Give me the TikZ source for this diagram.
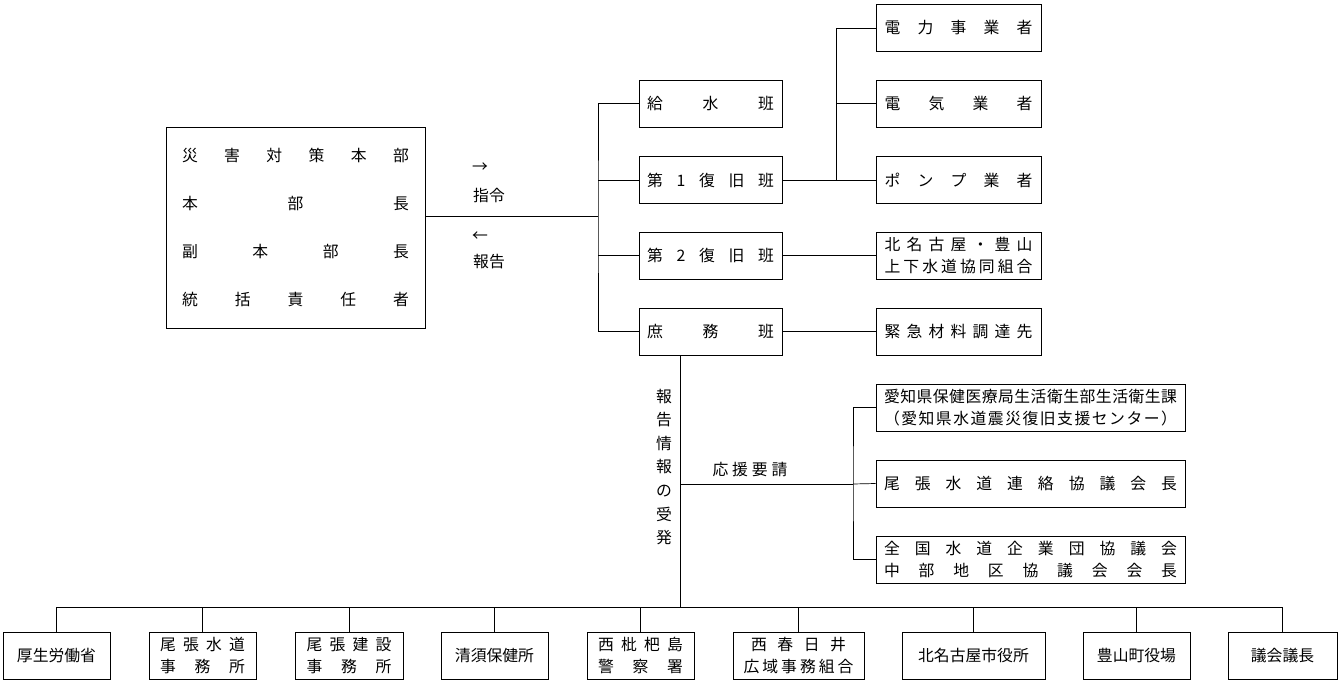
\documentclass[tikz,border=0pt]{standalone}
\usepackage{fontspec}
\setmainfont{Noto Sans CJK JP}
\makeatletter
\newcommand\spr[2]{\makebox[#1][s]{\spr@aux#2\@nil}}
\def\spr@aux#1#2\@nil{#1\ifx\relax#2\relax\else\hfill\spr@aux#2\@nil\fi}
\makeatother
\begin{document}
\begin{tikzpicture}[x=0.02cm, y=-0.02cm,
    every node/.style={font=\fontsize{9}{12.5}\selectfont, inner sep=0pt},
    box/.style={draw, minimum height=0.94cm, align=center},
    lbox/.style={box, minimum width=2.86cm},
    rbox/.style={box, minimum width=3.3cm},
    wbox/.style={box, minimum width=6.18cm},
    bbox/.style={box, minimum height=0.94cm}
]
    \useasboundingbox (0,0) rectangle (1339,682);

    % Headquarters
    \node[draw, minimum width=5.18cm, minimum height=4.02cm, align=center,
          font=\fontsize{9}{27.3}\selectfont] (hq) at (295.5,227.5)
        {\spr{4.54cm}{災害対策本部}\\\spr{4.54cm}{本部長}\\\spr{4.54cm}{副本部長}\\\spr{4.54cm}{統括責任者}};

    % Teams
    \node[lbox] (kyusui) at (710.5,103.5) {\spr{2.54cm}{給水班}};
    \node[lbox] (fukkyu1) at (710.5,180) {\spr{2.54cm}{第1復旧班}};
    \node[lbox] (fukkyu2) at (710.5,255.5) {\spr{2.54cm}{第2復旧班}};
    \node[lbox] (shomu) at (710.5,331.5) {\spr{2.54cm}{庶務班}};

    % Contractors
    \node[rbox] (denryoku) at (958.5,28) {\spr{2.96cm}{電力事業者}};
    \node[rbox] (denki) at (958.5,103.5) {\spr{2.96cm}{電気業者}};
    \node[rbox] (pump) at (958.5,180) {\spr{2.96cm}{ポンプ業者}};
    \node[rbox] (kumiai) at (958.5,255.5) {\spr{2.96cm}{北名古屋・豊山}\\\spr{2.96cm}{上下水道協同組合}};
    \node[rbox] (zairyo) at (958.5,331.5) {\spr{2.96cm}{緊急材料調達先}};

    % Support
    \node[wbox] (aichi) at (1030.5,407.5) {\spr{5.86cm}{愛知県保健医療局生活衛生部生活衛生課}\\\spr{5.86cm}{（愛知県水道震災復旧支援センター）}};
    \node[wbox] (owari) at (1030.5,483.5) {\spr{5.86cm}{尾張水道連絡協議会長}};
    \node[wbox] (zenkoku) at (1030.5,559.5) {\spr{5.86cm}{全国水道企業団協議会}\\\spr{5.86cm}{中部地区協議会会長}};

    % Bottom row
    \node[bbox, minimum width=2.14cm] (kosei) at (56.5,655.5) {厚生労働省};
    \node[bbox, minimum width=2.14cm] (owarisui) at (202.5,655.5) {\spr{1.7cm}{尾張水道}\\\spr{1.7cm}{事務所}};
    \node[bbox, minimum width=2.16cm] (owariken) at (349,655.5) {\spr{1.7cm}{尾張建設}\\\spr{1.7cm}{事務所}};
    \node[bbox, minimum width=2.14cm] (hoken) at (494.5,655.5) {清須保健所};
    \node[bbox, minimum width=2.14cm] (keisatsu) at (640.5,655.5) {\spr{1.7cm}{西枇杷島}\\\spr{1.7cm}{警察署}};
    \node[bbox, minimum width=2.62cm] (kouiki) at (798.5,655.5) {\spr{1.9cm}{西春日井}\\\spr{2.2cm}{広域事務組合}};
    \node[bbox, minimum width=2.86cm] (shiyakusho) at (973.5,655.5) {北名古屋市役所};
    \node[bbox, minimum width=2.14cm] (yakuba) at (1136.5,655.5) {豊山町役場};
    \node[bbox, minimum width=2.18cm] (gikai) at (1282.5,655.5) {議会議長};

    % Labels
    \node (shirei1) at (480,168) {→};
    \node (shirei2) at (489,195) {指令};
    \node (hokoku1) at (480,237) {←};
    \node (hokoku2) at (489,262) {報告};
    \node[align=center, font=\fontsize{9}{13.4}\selectfont] (jyuhatsu) at (664,467) {報\\告\\情\\報\\の\\受\\発};
    \node (oen) at (750,470) {\spr{1.5cm}{応援要請}};

    % Connectors
    \coordinate (j1) at (598,216);
    \coordinate (j2) at (836,180);
    \coordinate (j3) at (680,484);
    \coordinate (j4) at (853,484);
    \coordinate (j5) at (680,607);
    \draw (hq.east |- j1) -- (j1);
    \draw (kyusui.west) -| (j1) |- (shomu.west);
    \draw (j1 |- fukkyu1) -- (fukkyu1.west);
    \draw (j1 |- fukkyu2) -- (fukkyu2.west);
    \draw (fukkyu1.east) -- (j2);
    \draw (denryoku.west) -| (j2) -- (pump.west);
    \draw (j2 |- denki) -- (denki.west);
    \draw (fukkyu2.east) -- (kumiai.west);
    \draw (shomu.east) -- (zairyo.west);
    \draw (shomu.south -| j5) -- (j5);
    \draw (j3) -- (j4);
    \draw (aichi.west) -| (j4) |- (zenkoku.west);
    \draw (j4) -- (owari.west);
    \draw (kosei.north |- j5) -- (gikai.north |- j5);
    \foreach \n in {kosei, owarisui, owariken, hoken, keisatsu, kouiki, shiyakusho, yakuba, gikai}
        \draw (\n.north) -- (\n.north |- j5);
\end{tikzpicture}
\end{document}
